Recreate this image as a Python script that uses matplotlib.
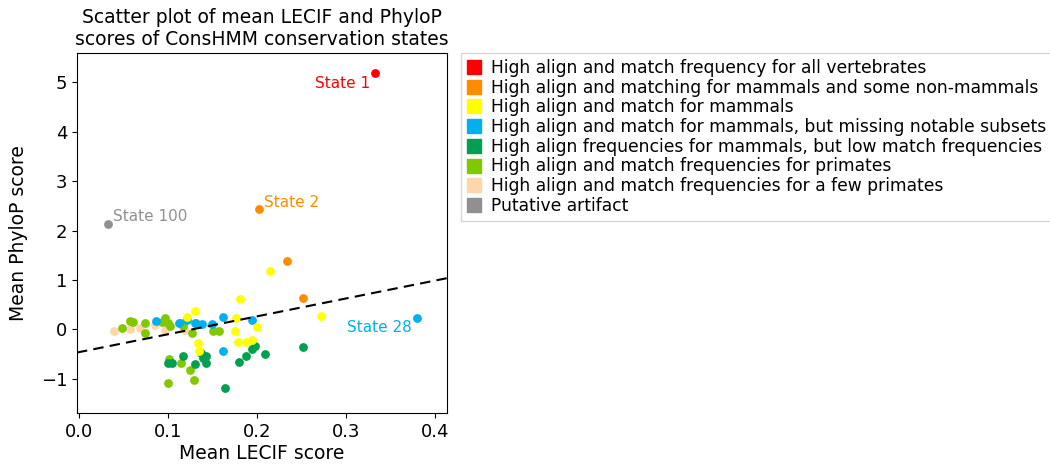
import numpy as np
import matplotlib
matplotlib.use("Agg")
import matplotlib.pyplot as plt
from matplotlib.lines import Line2D

# mean LECIF / mean PhyloP per ConsHMM state, grouped by state category
group_names = [
    "High align and match frequency for all vertebrates",
    "High align and matching for mammals and some non-mammals",
    "High align and match for mammals",
    "High align and match for mammals, but missing notable subsets",
    "High align frequencies for mammals, but low match frequencies",
    "High align and match frequencies for primates",
    "High align and match frequencies for a few primates",
    "Putative artifact",
]
group_colors = ["#ff0000", "#ff8c00", "#ffff00", "#00b0f0",
                "#00a050", "#80c800", "#ffd5aa", "#909090"]

lecif_red = [0.333]
phylop_red = [5.18]

lecif_orange = [0.202, 0.234, 0.252]
phylop_orange = [2.43, 1.39, 0.64]

lecif_yellow = [0.215, 0.181, 0.272, 0.130, 0.121, 0.177, 0.200,
                0.175, 0.134, 0.135, 0.179, 0.188, 0.194]
phylop_yellow = [1.18, 0.62, 0.27, 0.38, 0.26, 0.23, 0.04,
                 -0.04, -0.28, -0.43, -0.25, -0.25, -0.21]

lecif_blue = [0.380, 0.087, 0.113, 0.121, 0.130, 0.138, 0.150,
              0.162, 0.195, 0.162]
phylop_blue = [0.23, 0.17, 0.13, 0.19, 0.13, 0.11, 0.11,
               0.26, 0.19, -0.44]

lecif_dkgreen = [0.100, 0.105, 0.117, 0.137, 0.143, 0.143, 0.131,
                 0.139, 0.164, 0.180, 0.188, 0.194, 0.198, 0.209, 0.252]
phylop_dkgreen = [-0.68, -0.67, -0.54, -0.47, -0.54, -0.67, -0.70,
                  -0.58, -1.19, -0.65, -0.54, -0.39, -0.33, -0.50, -0.36]

lecif_ltgreen = [0.049, 0.057, 0.061, 0.074, 0.074, 0.097, 0.093,
                 0.100, 0.102, 0.115, 0.117, 0.127, 0.132, 0.151,
                 0.157, 0.101, 0.115, 0.125, 0.129, 0.100]
phylop_ltgreen = [0.02, 0.18, 0.16, 0.13, -0.08, 0.23, 0.16,
                  0.13, 0.06, 0.13, 0.06, -0.08, 0.13, -0.04,
                  -0.04, -0.60, -0.67, -0.82, -1.03, -1.09]

lecif_peach = [0.040, 0.057, 0.069, 0.086, 0.097, 0.119, 0.153]
phylop_peach = [-0.04, 0.00, 0.02, 0.09, -0.02, -0.01, -0.01]

lecif_gray = [0.033]
phylop_gray = [2.13]

# fitted trend line
fit_slope = 3.62
fit_intercept = -0.46

groups = [
    (lecif_red, phylop_red), (lecif_orange, phylop_orange),
    (lecif_yellow, phylop_yellow), (lecif_blue, phylop_blue),
    (lecif_dkgreen, phylop_dkgreen), (lecif_ltgreen, phylop_ltgreen),
    (lecif_peach, phylop_peach), (lecif_gray, phylop_gray),
]

fig = plt.figure(figsize=(10.5, 4.73), dpi=100)
ax = fig.add_axes([0.0733, 0.1268, 0.3524, 0.7612])

# draw in reverse so the rare states sit on top
for (xs, ys), c in list(zip(groups, group_colors))[::-1]:
    ax.scatter(xs, ys, s=40, color=c, linewidths=0, zorder=2)

ax.axline((0, fit_intercept), slope=fit_slope, color="black",
          ls="--", lw=1.5, dashes=(5, 3), zorder=3)

# labelled states
labels = [
    ("State 1", lecif_red[0], phylop_red[0], group_colors[0], (-5, -10), "right"),
    ("State 2", lecif_orange[0], phylop_orange[0], group_colors[1], (5, 7), "left"),
    ("State 100", lecif_gray[0], phylop_gray[0], group_colors[7], (5, 8), "left"),
    ("State 28", lecif_blue[0], phylop_blue[0], group_colors[3], (-5, -9), "right"),
]
for txt, x, y, c, off, ha in labels:
    ax.annotate(txt, (x, y), xytext=off, textcoords="offset pixels",
                color=c, fontsize=11, ha=ha, va="center")

ax.set_xlim(-0.002, 0.4135)
ax.set_ylim(-1.69, 5.59)
ax.set_xticks([0.0, 0.1, 0.2, 0.3, 0.4])
ax.set_yticks([-1, 0, 1, 2, 3, 4, 5])
ax.tick_params(labelsize=13)
ax.set_xlabel("Mean LECIF score", fontsize=13.5, labelpad=2)
ax.set_ylabel("Mean PhyloP score", fontsize=13.5, labelpad=9)
ax.set_title("Scatter plot of mean LECIF and PhyloP\nscores of ConsHMM conservation states",
             fontsize=13.5, pad=6)

handles = [Line2D([], [], marker="s", ls="none", color=c, markersize=9.5)
           for c in group_colors]
ax.legend(handles, group_names, loc="upper left", bbox_to_anchor=(1.038, 1.0),
          borderaxespad=0, fontsize=12.3, handlelength=0.8, handletextpad=0.6,
          labelspacing=0.1, borderpad=0.35, frameon=True, fancybox=False,
          edgecolor="#cccccc")

fig.savefig("out.png", dpi=100)
plt.close(fig)
